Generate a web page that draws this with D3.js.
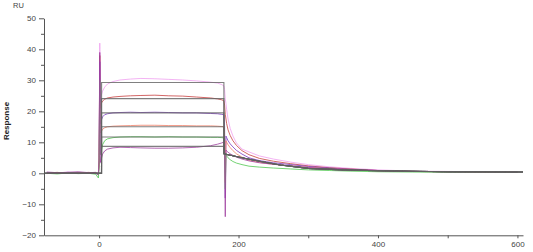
<!DOCTYPE html>
<html><head><meta charset="utf-8">
<script src="https://cdn.jsdelivr.net/npm/d3@7/dist/d3.min.js"></script>
<style>
html,body{margin:0;padding:0;background:#fff;}
svg{display:block;font-family:"Liberation Sans",Arial,sans-serif;}
</style></head>
<body>
<svg id="chart" width="533" height="252"></svg>
<script>
// ---- data ----
const time = [-75,-60,-45,-30,-15,-5,-1,0,1,2,3,5,8,12,20,30,45,60,80,100,120,140,160,170,176,179,180,181,182,183,185,188,192,197,205,215,230,250,275,300,330,360,400,450,500,550,600];

const seriesNames = ["c1","c2","c3","c4","c5","c6"];
const seriesColors = ["#f0a0f0","#c84040","#7a38c0","#f08068","#50c850","#a040a0"];

const c1 = [0.3,0.1,0.4,0.2,0.3,0.1,0.0,5,42,24,25,26.5,27.8,28.8,29.6,30.1,30.4,30.6,30.5,30.3,30.1,29.8,29.4,29.1,28.6,28.2,27,24,22.5,20.5,17.5,14.5,12,9.8,7.8,6.9,5.6,4.6,3.6,2.8,2.1,1.6,1.1,0.7,0.6,0.5,0.4];
const c2 = [0.1,0.3,0.0,0.2,0.1,0.2,-0.4,4,38,21,22.5,23.3,23.9,24.3,24.6,24.8,25.0,25.1,25.2,25.0,24.9,24.6,24.3,24.0,23.7,23.4,22,19,17.5,16,14,12.2,10.5,9.0,7.3,6.0,4.8,3.9,3.1,2.4,1.8,1.4,0.9,0.6,0.5,0.4,0.4];
const c3 = [0.2,0.0,0.3,0.1,0.2,0.0,-0.6,3,36,16,17,18.2,18.9,19.2,19.5,19.6,19.7,19.6,19.7,19.6,19.5,19.5,19.3,19.2,19.0,18.9,15,-8,12,11.5,10.5,9.5,8.5,7.4,6.2,5.0,4.1,3.4,2.8,2.2,1.7,1.3,0.9,0.6,0.5,0.5,0.4];
const c4 = [-0.1,0.2,0.1,0.0,0.3,0.1,-0.3,3,23,13,13.4,14.2,14.7,15.0,15.2,15.3,15.4,15.5,15.5,15.4,15.4,15.3,15.3,15.2,15.1,15.0,12,-3,10.5,10,9.2,8.3,7.3,6.3,5.2,4.2,3.5,2.9,2.4,1.9,1.5,1.2,0.8,0.6,0.5,0.4,0.4];
const c5 = [0.0,-0.2,0.1,-0.1,0.0,-0.3,-1.5,2,30,6,7,9.2,10.5,11.1,11.5,11.7,11.8,11.8,11.7,11.8,11.7,11.7,11.6,11.6,11.5,11.4,8,-5,6.0,5.6,5.0,4.4,3.8,3.3,2.8,2.3,2.0,1.7,1.4,1.1,0.9,0.7,0.5,0.4,0.3,0.4,0.3];
const c6 = [0.4,0.2,0.3,0.5,0.2,0.3,-0.2,4,39,3.5,4.5,6.2,7.2,7.8,8.2,8.4,8.3,8.2,8.1,8.1,8.2,8.4,8.9,9.4,9.8,10.1,6,-14,7.5,7.2,6.8,6.3,5.8,5.2,4.6,4.0,3.4,2.9,2.4,1.9,1.5,1.2,0.9,0.6,0.5,0.5,0.4];
const seriesValues = [c1,c2,c3,c4,c5,c6];

// fitted curves: association plateau levels + shared dissociation
const fitPlateaus = [29.3,24.1,19.5,15.0,11.7,8.7];
const fitAssocTime = [-79,3.5,3.6,179];
const fitDissTime = [179.2,185,195,210,230,260,300,350,400,500,608];
const fitDissValues = [6.3,6.0,5.5,4.8,3.9,2.7,1.6,1.1,0.8,0.5,0.4];

const yTicksMajor = [-20,-10,0,10,20,30,40,50];
const yTicksMinor = [-15,-5,5,15,25,35,45];
const xTicksMajor = [0,200,400,600];
const xTicksMinor = [100,300,500];

// ---- drawing ----
const svg = d3.select("#chart");
const x = d3.scaleLinear().domain([-79,608]).range([44,523]);
const y = d3.scaleLinear().domain([-20,50]).range([235.3,18.3]);
const axisColor = "#555";
const textColor = "#444";

const line = d3.line().x(d=>x(d[0])).y(d=>y(d[1]));

const plot = svg.append("g");

// data curves
seriesValues.forEach((vals,i)=>{
  plot.append("path")
    .datum(time.map((t,k)=>[t,vals[k]]))
    .attr("d",line)
    .attr("fill","none")
    .attr("stroke",seriesColors[i])
    .attr("stroke-width",0.8)
    .attr("stroke-linejoin","round");
});

// fit curves
fitPlateaus.forEach(p=>{
  const pts = [[fitAssocTime[0],0],[fitAssocTime[1],0],[fitAssocTime[2],p],[fitAssocTime[3],p]]
    .concat(fitDissTime.map((t,k)=>[t,fitDissValues[k]]));
  plot.append("path")
    .datum(pts)
    .attr("d",line)
    .attr("fill","none")
    .attr("stroke","#606060")
    .attr("stroke-opacity",0.8)
    .attr("stroke-width",1.1);
});

// axes
function styleAxis(g){
  g.select(".domain").attr("stroke",axisColor);
  g.selectAll(".tick line").attr("stroke",axisColor);
  g.selectAll(".tick text").attr("fill",textColor).attr("font-size","8px").attr("font-family","Liberation Sans, Arial, sans-serif");
}

const yAxis = svg.append("g").attr("transform","translate(44,0)")
  .call(d3.axisLeft(y).tickValues(yTicksMajor).tickSize(5).tickPadding(3).tickSizeOuter(0));
styleAxis(yAxis);
const yMinor = svg.append("g").attr("transform","translate(44,0)")
  .call(d3.axisLeft(y).tickValues(yTicksMinor).tickSize(3).tickFormat("").tickSizeOuter(0));
yMinor.select(".domain").remove();
yMinor.selectAll(".tick line").attr("stroke",axisColor);

const xAxis = svg.append("g").attr("transform","translate(0,235.3)")
  .call(d3.axisBottom(x).tickValues(xTicksMajor).tickSize(3).tickPadding(3).tickSizeOuter(0));
styleAxis(xAxis);
const xMinor = svg.append("g").attr("transform","translate(0,235.3)")
  .call(d3.axisBottom(x).tickValues(xTicksMinor).tickSize(3).tickFormat("").tickSizeOuter(0));
xMinor.select(".domain").remove();
xMinor.selectAll(".tick line").attr("stroke",axisColor);

// labels
svg.append("text").attr("x",13).attr("y",8).text("RU")
  .attr("font-size","7.5px").attr("fill",textColor);
svg.append("text").attr("transform","translate(9,121) rotate(-90)")
  .attr("text-anchor","middle").attr("font-size","8px").attr("font-weight","bold")
  .attr("fill","#222").text("Response");
</script>
</body></html>
